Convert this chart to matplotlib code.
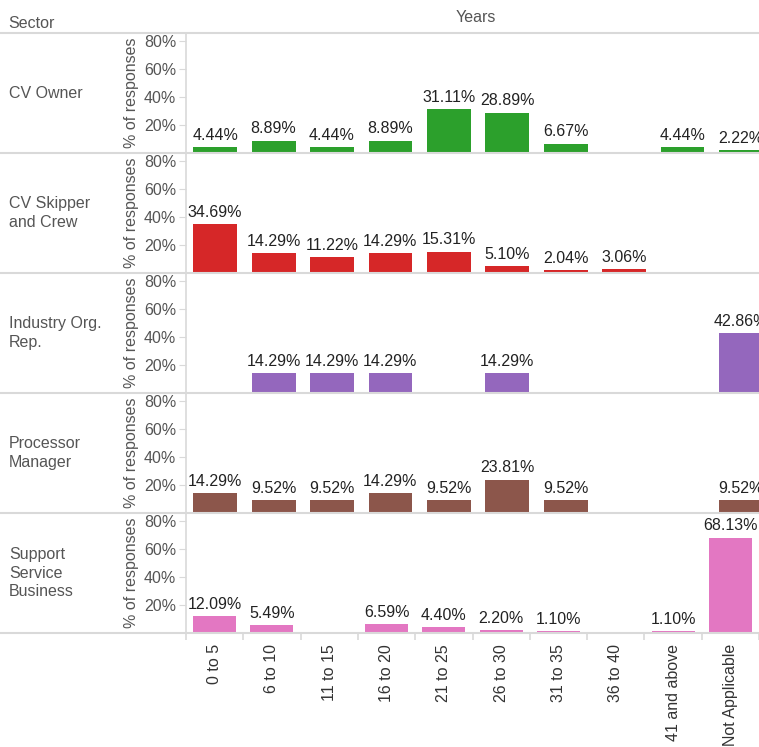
import numpy as np
import matplotlib.pyplot as plt
from matplotlib.lines import Line2D

plt.rcParams['font.family'] = ['Liberation Sans', 'DejaVu Sans']

years = ['0 to 5', '6 to 10', '11 to 15', '16 to 20', '21 to 25', '26 to 30',
         '31 to 35', '36 to 40', '41 and above', 'Not Applicable']
sectors = ['CV Owner', 'CV Skipper\nand Crew', 'Industry Org.\nRep.',
           'Processor\nManager', 'Support\nService\nBusiness']
nan = np.nan
cv_owner = [4.44, 8.89, 4.44, 8.89, 31.11, 28.89, 6.67, nan, 4.44, 2.22]
cv_skipper = [34.69, 14.29, 11.22, 14.29, 15.31, 5.10, 2.04, 3.06, nan, nan]
industry_rep = [nan, 14.29, 14.29, 14.29, nan, 14.29, nan, nan, nan, 42.86]
processor = [14.29, 9.52, 9.52, 14.29, 9.52, 23.81, 9.52, nan, nan, 9.52]
support = [12.09, 5.49, nan, 6.59, 4.40, 2.20, 1.10, nan, 1.10, 68.13]
series = [cv_owner, cv_skipper, industry_rep, processor, support]
colors = ['#2ca02c', '#d62728', '#9467bd', '#8c564b', '#e377c2']

W, H = 759, 747
fig = plt.figure(figsize=(W / 100, H / 100), dpi=100)
grid = '#d9d9d9'
txt = '#555555'
fs = 11.5

x = np.arange(len(years))
row_top = 33
row_h = 120
left = 186

for i, (vals, col, name) in enumerate(zip(series, colors, sectors)):
    top = row_top + row_h * i
    ax = fig.add_axes([left / W, 1 - (top + row_h) / H, 1 - left / W, row_h / H])
    vals = np.array(vals)
    ax.bar(x, np.nan_to_num(vals), width=0.75, color=col)
    for xi, v in zip(x, vals):
        if not np.isnan(v):
            ax.annotate(f'{v:.2f}%', (xi, v), xytext=(0, 3), textcoords='offset points',
                        ha='center', va='bottom', fontsize=fs, color='#222222',
                        annotation_clip=False)
    ax.set_xlim(-0.5, (W - left) / 58.4 - 0.5)
    ax.set_ylim(0, 85.7)
    ax.set_yticks([20, 40, 60, 80])
    ax.set_yticklabels(['20%', '40%', '60%', '80%'])
    ax.tick_params(axis='y', colors=grid, labelcolor=txt, labelsize=fs, length=5, pad=2)
    for s in ['top', 'right', 'bottom']:
        ax.spines[s].set_visible(False)
    ax.spines['left'].set_color(grid)
    ax.spines['left'].set_linewidth(1.2)
    ax.set_ylabel('% of responses', fontsize=fs, color=txt)
    ax.yaxis.set_label_coords(-(left - 139) / (W - left), 0.5)
    ax.patch.set_visible(False)
    if i == len(series) - 1:
        ax.set_xticks(x)
        ax.set_xticklabels(years, rotation=90, fontsize=fs, color='#333333', va='top')
        ax.set_xticks(np.arange(-0.5, 10, 1), minor=True)
        ax.tick_params(axis='x', which='major', length=0, pad=8)
        ax.tick_params(axis='x', which='minor', length=5, color=grid, width=1.2)
    else:
        ax.set_xticks([])
    fig.text(9 / W, 1 - (top + row_h / 2) / H, name, ha='left', va='center',
             fontsize=fs, color=txt, linespacing=1.3)

# separator lines
for k in range(len(series) + 1):
    y = 1 - (row_top + row_h * k) / H
    fig.add_artist(Line2D([0, 1], [y, y], color=grid, lw=1.5))

fig.text(8 / W, 1 - 23 / H, 'Sector', ha='left', va='center', fontsize=fs, color=txt)
fig.text(476 / W, 1 - 18 / H, 'Years', ha='center', va='center', fontsize=fs, color=txt)

fig.savefig('out.png', dpi=100)
